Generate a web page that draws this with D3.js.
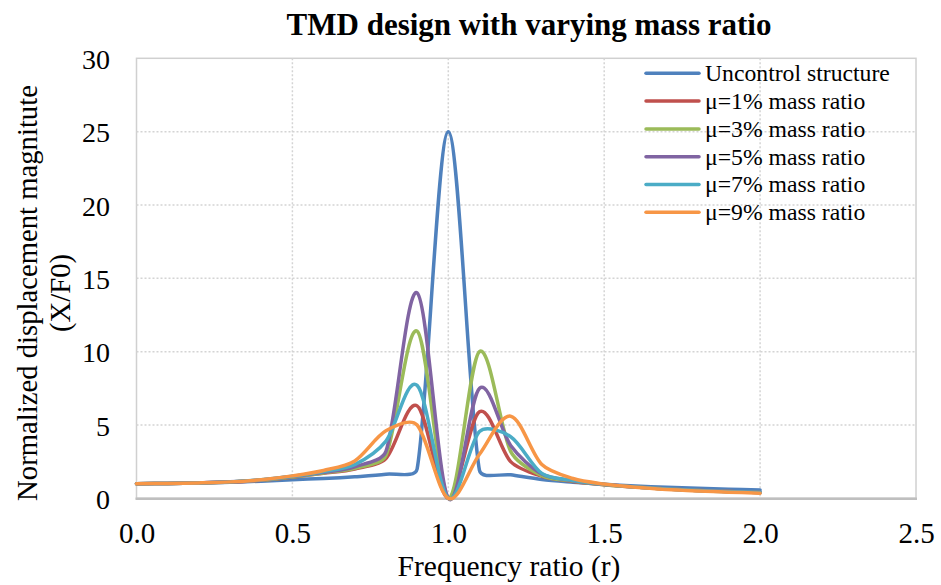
<!DOCTYPE html>
<html>
<head>
<meta charset="utf-8">
<script src="https://cdn.jsdelivr.net/npm/d3@7"></script>
<style>
  body { margin: 0; background: #ffffff; }
  svg text { font-family: "Liberation Serif", "Times New Roman", serif; fill: #000000; }
</style>
</head>
<body>
<script>
//Data, one point every 0.1 of the frequency ratio.
var freqRatio = [0.0, 0.1, 0.2, 0.3, 0.4, 0.5, 0.6, 0.7, 0.8, 0.9, 1.0, 1.1, 1.2, 1.3, 1.4, 1.5, 1.6, 1.7, 1.8, 1.9, 2.0];
var uncontrolled = [1.00, 1.01, 1.04, 1.09, 1.17, 1.27, 1.35, 1.47, 1.64, 2.0, 25.0, 1.9, 1.6, 1.28, 1.1, 0.95, 0.84, 0.75, 0.68, 0.62, 0.57];
var mu1 = [1.00, 1.01, 1.05, 1.11, 1.23, 1.44, 1.70, 2.00, 2.72, 6.3, 0.0, 5.9, 2.5, 1.5, 1.15, 0.93, 0.77, 0.64, 0.54, 0.46, 0.40];
var mu3 = [1.00, 1.01, 1.05, 1.11, 1.24, 1.46, 1.73, 2.05, 2.92, 11.4, 0.0, 10.0, 3.2, 1.55, 1.18, 0.93, 0.77, 0.64, 0.54, 0.46, 0.40];
var mu5 = [1.00, 1.01, 1.05, 1.12, 1.25, 1.48, 1.77, 2.15, 3.2, 14.0, 0.0, 7.5, 3.6, 1.65, 1.2, 0.94, 0.77, 0.64, 0.54, 0.46, 0.40];
var mu7 = [1.00, 1.01, 1.05, 1.12, 1.26, 1.50, 1.82, 2.3, 3.9, 7.7, 0.0, 4.55, 4.2, 1.7, 1.22, 0.95, 0.77, 0.63, 0.53, 0.45, 0.39];
var mu9 = [1.00, 1.01, 1.05, 1.12, 1.27, 1.53, 1.90, 2.55, 4.6, 5.0, 0.0, 3.0, 5.6, 2.3, 1.35, 0.97, 0.75, 0.6, 0.5, 0.42, 0.35];

var seriesNames = ["Uncontrol structure", "\u03bc=1% mass ratio", "\u03bc=3% mass ratio", "\u03bc=5% mass ratio", "\u03bc=7% mass ratio", "\u03bc=9% mass ratio"];
var seriesValues = [uncontrolled, mu1, mu3, mu5, mu7, mu9];

//Tick values of both axes.
var xTicks = [0.0, 0.5, 1.0, 1.5, 2.0, 2.5];
var yTicks = [0, 5, 10, 15, 20, 25, 30];

//Excel 2010 colours.
var colors = ["#4F81BD", "#C0504D", "#9BBB59", "#8064A2", "#4BACC6", "#F79646"];

var fontName = "Liberation Serif";

//Size of the page and the plot area.
var width = 941;
var height = 585;
var plotLeft = 136.5, plotRight = 916, plotTop = 58.3, plotBottom = 498.3;

var x = d3.scaleLinear().domain([0, 2.5]).range([plotLeft, plotRight]);
var y = d3.scaleLinear().domain([0, 30]).range([plotBottom, plotTop]);

var svg = d3.select("body").append("svg")
  .attr("width", width)
  .attr("height", height)
  .style("font-family", fontName);

//Plot area border.
svg.append("rect")
  .attr("x", plotLeft).attr("y", plotTop)
  .attr("width", plotRight - plotLeft).attr("height", plotBottom - plotTop)
  .attr("fill", "none").attr("stroke", "#D0D0D0").attr("stroke-width", 1.5);

//Dotted grid lines.
svg.append("g")
  .selectAll("line")
  .data(yTicks.filter(function (d) { return d > 0 && d < 30; }))
  .enter().append("line")
  .attr("x1", plotLeft).attr("x2", plotRight)
  .attr("y1", function (d) { return y(d); }).attr("y2", function (d) { return y(d); })
  .attr("stroke", "#D4D4D4").attr("stroke-width", 1.5).attr("stroke-dasharray", "2,2");

svg.append("g")
  .selectAll("line")
  .data(xTicks.filter(function (d) { return d > 0 && d < 2.5; }))
  .enter().append("line")
  .attr("x1", function (d) { return x(d); }).attr("x2", function (d) { return x(d); })
  .attr("y1", plotTop).attr("y2", plotBottom)
  .attr("stroke", "#D4D4D4").attr("stroke-width", 1.5).attr("stroke-dasharray", "2,2");

//Axes, only the labels are kept from d3 axis.
var xAxis = svg.append("g")
  .attr("transform", "translate(0," + plotBottom + ")")
  .call(d3.axisBottom(x).tickValues(xTicks).tickFormat(d3.format(".1f")).tickSize(0).tickPadding(0));
xAxis.select(".domain").remove();
xAxis.attr("font-family", fontName);
xAxis.selectAll("text")
  .attr("dy", null).attr("y", 45)
  .style("font-size", "29px").style("font-family", fontName);

var yAxis = svg.append("g")
  .attr("transform", "translate(110,0)")
  .call(d3.axisLeft(y).tickValues(yTicks).tickSize(0).tickPadding(0));
yAxis.select(".domain").remove();
yAxis.attr("font-family", fontName);
yAxis.selectAll("text")
  .attr("dy", "0.36em").attr("x", 0)
  .style("font-size", "28px").style("font-family", fontName);

//Bottom axis line.
svg.append("line")
  .attr("x1", plotLeft - 1).attr("x2", plotRight + 1)
  .attr("y1", plotBottom + 0.5).attr("y2", plotBottom + 0.5)
  .attr("stroke", "#BFBFBF").attr("stroke-width", 2.5);

//Smoothing like Excel: Catmull-Rom handles, but a handle is never longer
//than a share of the segment it belongs to.
function excelSmooth(context) {
  var pts;
  var maxShare = 0.3;
  function handle(v, segLen) {
    var len = Math.hypot(v[0], v[1]);
    var k = len > maxShare * segLen ? maxShare * segLen / len : 1;
    return [v[0] * k, v[1] * k];
  }
  return {
    areaStart: function () {},
    areaEnd: function () {},
    lineStart: function () { pts = []; },
    point: function (px, py) { pts.push([+px, +py]); },
    lineEnd: function () {
      var n = pts.length;
      if (!n) return;
      context.moveTo(pts[0][0], pts[0][1]);
      for (var j = 1; j < n; j++) {
        var a0 = pts[Math.max(j - 2, 0)], a = pts[j - 1], b = pts[j], b1 = pts[Math.min(j + 1, n - 1)];
        var seg = Math.hypot(b[0] - a[0], b[1] - a[1]);
        var ha = handle([(b[0] - a0[0]) / 6, (b[1] - a0[1]) / 6], seg);
        var hb = handle([(b1[0] - a[0]) / 6, (b1[1] - a[1]) / 6], seg);
        context.bezierCurveTo(a[0] + ha[0], a[1] + ha[1], b[0] - hb[0], b[1] - hb[1], b[0], b[1]);
      }
    }
  };
}

var line = d3.line()
  .x(function (d, i) { return x(freqRatio[i]); })
  .y(function (d) { return y(d); })
  .curve(excelSmooth);

svg.append("g")
  .selectAll("path")
  .data(seriesValues)
  .enter().append("path")
  .attr("d", line)
  .attr("fill", "none")
  .attr("stroke", function (d, i) { return colors[i]; })
  .attr("stroke-width", 3.5)
  .attr("stroke-linejoin", "round")
  .attr("stroke-linecap", "round");

//Legend.
var legend = svg.append("g")
  .selectAll("g")
  .data(seriesNames)
  .enter().append("g")
  .attr("transform", function (d, i) { return "translate(646," + (73.3 + i * 27.8) + ")"; });

legend.append("line")
  .attr("x1", 0).attr("x2", 53)
  .attr("stroke", function (d, i) { return colors[i]; })
  .attr("stroke-width", 3.5)
  .attr("stroke-linecap", "round");

legend.append("text")
  .attr("x", 59).attr("dy", "0.33em")
  .style("font-size", "23.7px").style("font-family", fontName)
  .text(function (d) { return d; });

//Title and axis titles.
svg.append("text")
  .attr("x", 529).attr("y", 35)
  .attr("text-anchor", "middle")
  .style("font-size", "31px").style("font-weight", "bold").style("font-family", fontName)
  .text("TMD design with varying mass ratio");

svg.append("text")
  .attr("x", 509).attr("y", 576)
  .attr("text-anchor", "middle")
  .style("font-size", "29.5px").style("font-family", fontName)
  .text("Frequency ratio (r)");

var yTitle = svg.append("text")
  .attr("transform", "translate(37,293) rotate(-90)")
  .attr("text-anchor", "middle")
  .style("font-size", "28.7px").style("font-family", fontName);
yTitle.append("tspan").attr("x", 0).attr("y", 0).text("Normalized displacement magnitute");
yTitle.append("tspan").attr("x", 0).attr("y", 33).text("(X/F0)");
</script>
</body>
</html>
